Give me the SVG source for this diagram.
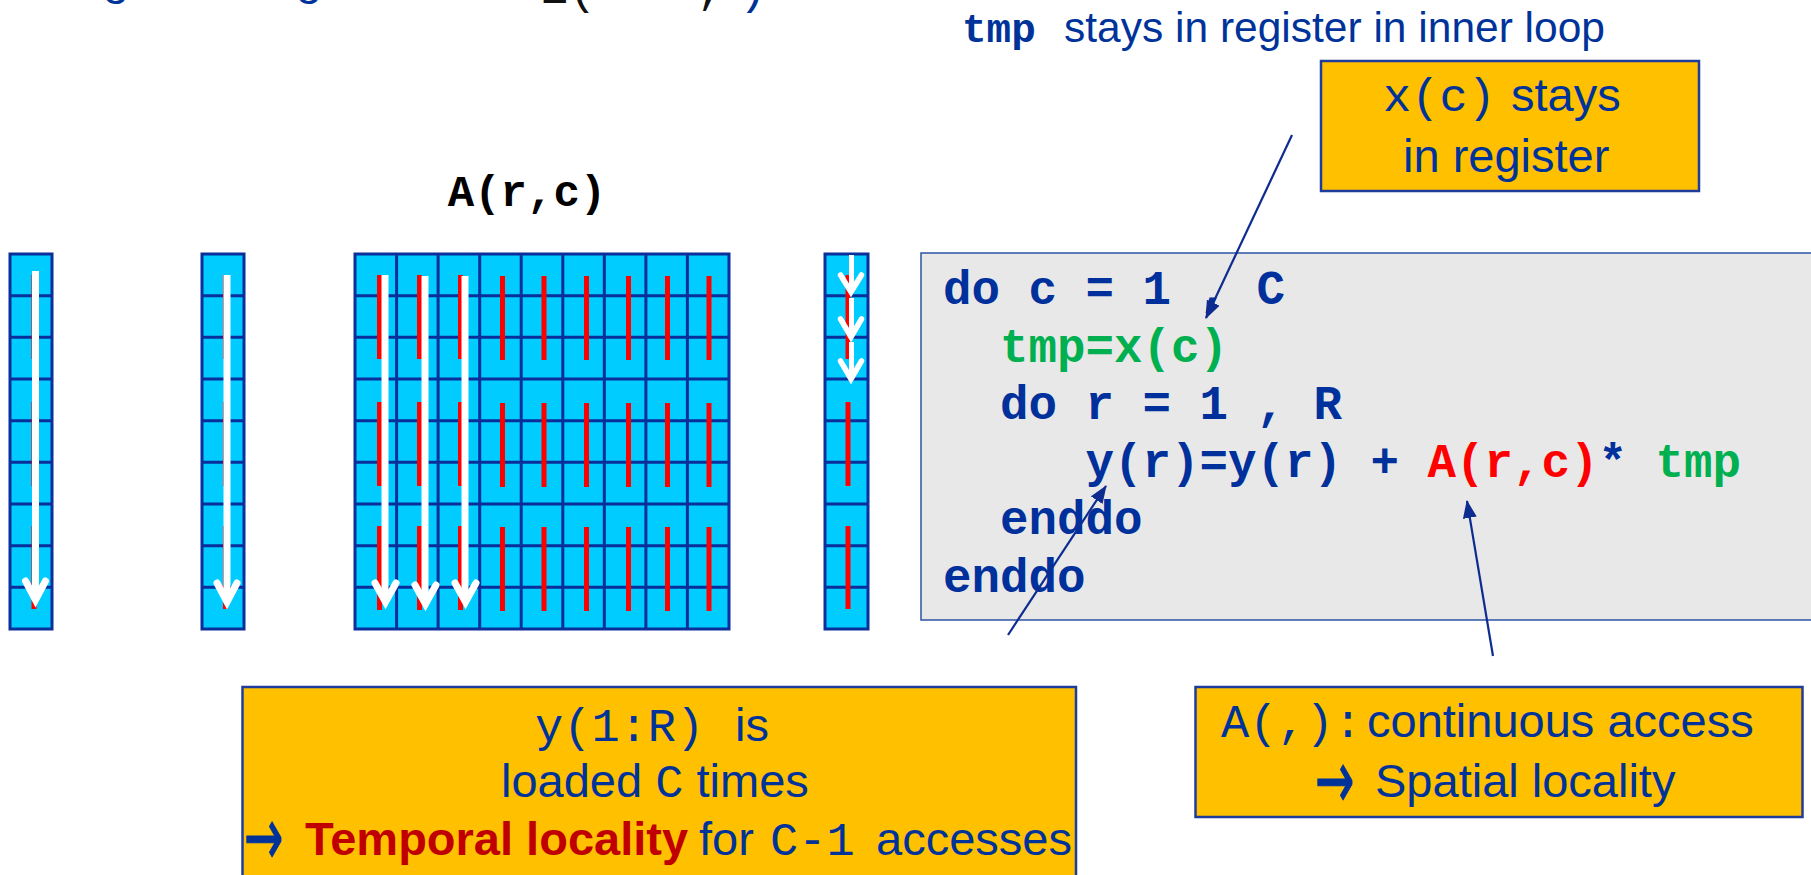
<svg xmlns="http://www.w3.org/2000/svg" width="1811" height="875" viewBox="0 0 1811 875">
  <style>
    .cell { fill: #00CCFF; stroke: #0A2E9A; stroke-width: 3; }
    .grid { fill: none; stroke: #0A2E9A; stroke-width: 3; }
    .red { fill: none; stroke: #FF0000; stroke-width: 5; }
    .shaft { fill: none; stroke: #FFFFFF; stroke-width: 7; }
    .head { fill: none; stroke: #FFFFFF; stroke-width: 7; stroke-linecap: round; stroke-linejoin: miter; }
    .shaft-s { fill: none; stroke: #FFFFFF; stroke-width: 5; }
    .head-s { fill: none; stroke: #FFFFFF; stroke-width: 5.5; stroke-linecap: round; }
    .conn { fill: none; stroke: #0D2C8F; stroke-width: 2.2; marker-end: url(#ah); }
    .note { fill: #FFC000; stroke: #1F3C9B; stroke-width: 2.5; }
    .codebox { fill: #E8E8E8; stroke: #2E54A6; stroke-width: 1.5; }
    .code { font-family: "Liberation Mono", "DejaVu Sans Mono", monospace; font-weight: bold; font-size: 47.5px; fill: #00309C; }
    .green { fill: #00B050; }
    .redtxt { fill: #FF0000; }
    .sans { font-family: "Liberation Sans", Arial, sans-serif; font-size: 47px; fill: #00339A; }
    .mono { font-family: "Liberation Mono", "Courier New", monospace; font-weight: normal; }
    .arrowglyph { font-family: "DejaVu Sans", "Liberation Sans", sans-serif; font-size: 47px; fill: #00339A; stroke: #00339A; stroke-width: 0.6; }
  </style>
  <defs>
    <marker id="ah" viewBox="0 0 18 14" markerWidth="18" markerHeight="14" refX="17" refY="7" orient="auto" markerUnits="userSpaceOnUse">
      <path d="M0,0 L18,7 L0,14 z" fill="#0D2C8F"/>
    </marker>
  </defs>

  <rect width="1811" height="875" fill="#FFFFFF"/>

  <!-- heading line running off the top edge -->
  <g id="heading-tail">
    <text x="103" y="-6" class="sans">g</text>
    <text x="296" y="-6" class="sans">g</text>
    <text x="540" y="2.5" class="sans mono" style="fill:#111111">1(</text>
    <text x="697" y="2.5" class="sans mono" style="fill:#111111">,</text>
    <text x="739" y="2.5" class="sans mono">)</text>
  </g>

  <!-- header remark -->
  <g id="header">
    <text y="42" class="sans" style="font-size:42.5px">
      <tspan x="962" class="code" style="font-size:41px;fill:#00339A">tmp</tspan>
      <tspan x="1064">stays in register in inner loop</tspan>
    </text>
  </g>

  <!-- vector y -->
  <g id="vec-y">
    <rect x="10" y="254" width="42" height="375" class="cell"/>
    <path class="grid" d="M10 295.67H52M10 337.33H52M10 379H52M10 420.67H52M10 462.33H52M10 504H52M10 545.67H52M10 587.33H52"/>
    <path class="red" d="M34 275V359M34 402V486M34 526V609"/>
    <path class="shaft" d="M35.5 271V598"/>
    <path class="head" d="M25.5 581L35.5 600L45.5 581"/>
  </g>

  <!-- vector y (second pass) -->
  <g id="vec-y2">
    <rect x="202" y="254" width="42" height="375" class="cell"/>
    <path class="grid" d="M202 295.67H244M202 337.33H244M202 379H244M202 420.67H244M202 462.33H244M202 504H244M202 545.67H244M202 587.33H244"/>
    <path class="red" d="M225.5 275V359M225.5 402V486M225.5 526V609"/>
    <path class="shaft" d="M227 275V600"/>
    <path class="head" d="M217 583L227 602L237 583"/>
  </g>

  <!-- matrix A(r,c) -->
  <g id="matrix-A">
    <text x="527" y="206" text-anchor="middle" class="code" style="font-size:44px;fill:#000000">A(r,c)</text>
    <rect x="355" y="254" width="374" height="375" class="cell"/>
    <path class="grid" d="M355 295.67H729M355 337.33H729M355 379H729M355 420.67H729M355 462.33H729M355 504H729M355 545.67H729M355 587.33H729
      M396.6 254V629M438.1 254V629M479.7 254V629M521.2 254V629M562.8 254V629M604.3 254V629M645.9 254V629M687.4 254V629"/>
    <path class="red" d="M379.5 275V359M379.5 402V486M379.5 526V610
      M419.5 275V359M419.5 402V486M419.5 526V610
      M460.5 275V359M460.5 402V486M460.5 526V610
      M502.5 276V360M502.5 403V487M502.5 527V611
      M544 276V360M544 403V487M544 527V611
      M586.5 276V360M586.5 403V487M586.5 527V611
      M628.5 276V360M628.5 403V487M628.5 527V611
      M667.5 276V360M667.5 403V487M667.5 527V611
      M709 276V360M709 403V487M709 527V611"/>
    <path class="shaft" d="M385 275V600M425 276V602M465 276V600"/>
    <path class="head" d="M375 583L385.5 602L396 583M415 585L425.5 604L436 585M455 583L465.5 602L476 583"/>
  </g>

  <!-- vector x -->
  <g id="vec-x">
    <rect x="825" y="254" width="43" height="375" class="cell"/>
    <path class="grid" d="M825 295.67H868M825 337.33H868M825 379H868M825 420.67H868M825 462.33H868M825 504H868M825 545.67H868M825 587.33H868"/>
    <path class="red" d="M848 275V359M848 402V486M848 526V609"/>
    <path class="shaft-s" d="M851.5 255V290M851.5 298V334M851.5 342V376"/>
    <path class="head-s" d="M840.5 275L851 292L861.5 275M840.5 319L851 337L861.5 319M840.5 361L851 379L861.5 361"/>
  </g>

  <!-- loop code -->
  <g id="code">
    <rect x="921" y="253" width="900" height="367" class="codebox"/>
    <text x="943" y="304" class="code">do c = 1 , C</text>
    <text x="1000" y="362" class="code green">tmp=x(c)</text>
    <text x="1000" y="419" class="code">do r = 1 , R</text>
    <text x="1085.5" y="477" class="code">y(r)=y(r) + <tspan class="redtxt">A(r,c)</tspan>* <tspan class="green">tmp</tspan></text>
    <text x="1000" y="534" class="code">enddo</text>
    <text x="943" y="592" class="code">enddo</text>
  </g>

  <!-- note: x(c) -->
  <g id="note-x">
    <rect x="1321" y="61" width="378" height="130" class="note"/>
    <text y="111" class="sans"><tspan x="1383" class="mono">x(c)</tspan><tspan x="1511">stays</tspan></text>
    <text x="1403" y="172" class="sans">in register</text>
  </g>

  <!-- note: y(1:R) -->
  <g id="note-y">
    <rect x="242.5" y="687" width="833.5" height="220" class="note"/>
    <text y="741" class="sans"><tspan x="535" class="mono">y(1:R)</tspan><tspan x="735">is</tspan></text>
    <text x="501" y="797" class="sans">loaded <tspan class="mono">C</tspan> times</text>
    <text class="arrowglyph" x="-3" y="15" transform="translate(247,838.5) scale(1,1.75)">→</text>
    <text y="855" class="sans">
      <tspan x="305" style="font-weight:bold;fill:#C00000">Temporal locality</tspan>
      <tspan x="699">for</tspan>
      <tspan x="770" class="mono">C-1</tspan>
      <tspan x="876">accesses</tspan>
    </text>
  </g>

  <!-- note: A(,) -->
  <g id="note-A">
    <rect x="1195.5" y="687" width="607" height="130" class="note"/>
    <text y="737" class="sans"><tspan x="1221" class="mono">A(,):</tspan><tspan x="1367">continuous access</tspan></text>
    <text class="arrowglyph" x="-3" y="15" transform="translate(1318,782) scale(1,1.75)">→</text>
    <text x="1375" y="797" class="sans">Spatial locality</text>
  </g>

  <!-- callout connectors -->
  <g id="connectors">
    <path class="conn" d="M1292 135L1206 318"/>
    <path class="conn" d="M1008 635L1106 486"/>
    <path class="conn" d="M1493 656L1467 501"/>
  </g>
</svg>
